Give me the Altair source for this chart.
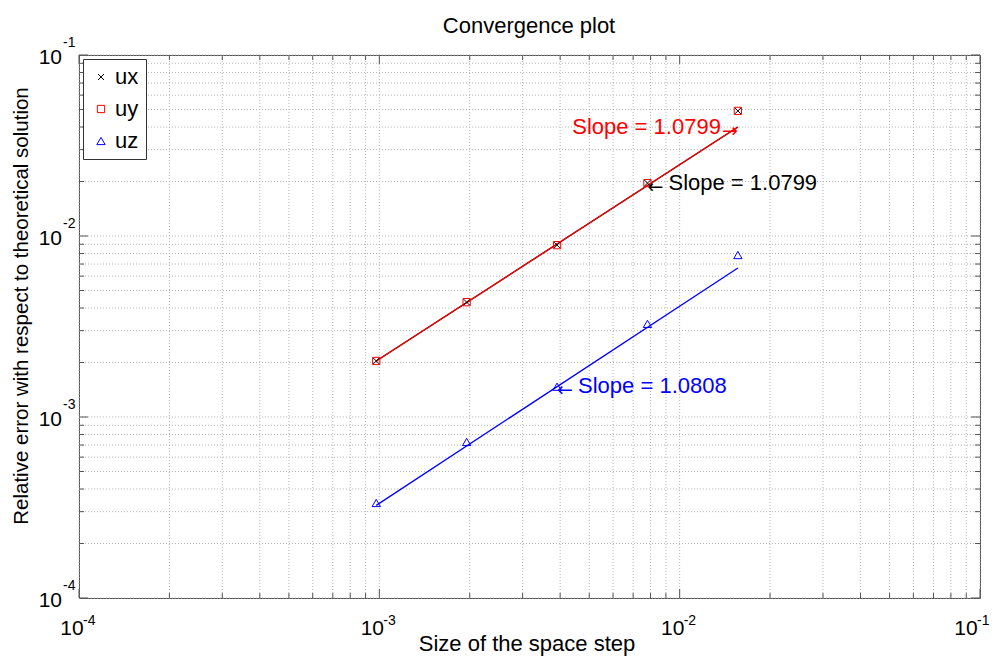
import altair as alt
import pandas as pd

# ---------------- data ----------------
steps = [0.0009766, 0.001953, 0.003906, 0.007813, 0.015625]
err_ux = [2.04e-3, 4.31e-3, 8.9e-3, 1.96e-2, 4.91e-2]
err_uy = [2.04e-3, 4.31e-3, 8.9e-3, 1.96e-2, 4.91e-2]
err_uz = [3.35e-4, 7.28e-4, 1.47e-3, 3.27e-3, 7.85e-3]

fit_x = [0.0009766, 0.015625]
fit_ux = [2.04e-3, 4.0e-2]
fit_uy = [2.04e-3, 4.0e-2]
fit_uz = [3.25e-4, 6.65e-3]

series = ["ux", "uy", "uz"]
colors = ["#000000", "#ff0000", "#0000ff"]
shapes = ["M-1,-1L1,1M-1,1L1,-1", "square", "triangle-up"]
sizes = [36, 70, 90]

ann_text = ["Slope = 1.0799", "Slope = 1.0799", "Slope = 1.0808"]
ann_arrow = ["\u2190", "\u2192", "\u2190"]
ann_x = [0.007813, 0.015625, 0.003906]
ann_y = [1.96e-2, 4.0e-2, 1.48e-3]
ann_align = ["left", "right", "left"]

decades = [1e-4, 1e-3, 1e-2, 1e-1]
decade_exp = ["-4", "-3", "-2", "-1"]
mantissas = [2, 3, 4, 5, 6, 7, 8, 9]

title_text = "Convergence plot"
x_title = "Size of the space step"
y_title = "Relative error with respect to theoretical solution"

# ---------------- layout ----------------
W, H = 901, 543
FONT = "Liberation Sans"
FRAME = "#555555"
GRID = "#b5b5b5"

minor_vals = [m * d for d in decades[:-1] for m in mantissas]
major_vals = decades

xs = alt.Scale(type="log", domain=[1e-4, 1e-1], nice=False)
ys = alt.Scale(type="log", domain=[1e-4, 1e-1], nice=False)

grid_df = pd.DataFrame({"v": minor_vals + major_vals})
minor_df = pd.DataFrame({"v": minor_vals})
major_df = pd.DataFrame({"v": major_vals})
lab_df = pd.DataFrame({"v": decades, "base": ["10"] * 4, "exp": decade_exp})

layers = []

# grid
layers.append(alt.Chart(grid_df).mark_rule(color=GRID, strokeDash=[1, 2], strokeWidth=1).encode(
    x=alt.X("v:Q", scale=xs, axis=None)))
layers.append(alt.Chart(grid_df).mark_rule(color=GRID, strokeDash=[1, 2], strokeWidth=1).encode(
    y=alt.Y("v:Q", scale=ys, axis=None)))

# fit lines
for vals, col in [(fit_ux, colors[0]), (fit_uz, colors[2]), (fit_uy, colors[1])]:
    df = pd.DataFrame({"step": fit_x, "err": vals})
    layers.append(alt.Chart(df).mark_line(color=col, strokeWidth=1.3).encode(
        x=alt.X("step:Q", scale=xs, axis=None),
        y=alt.Y("err:Q", scale=ys, axis=None)))

# points
pts = pd.DataFrame({
    "step": steps * 3,
    "err": err_uz + err_uy + err_ux,
    "series": ["uz"] * 5 + ["uy"] * 5 + ["ux"] * 5,
})
layers.append(alt.Chart(pts).mark_point(filled=False, strokeWidth=1, opacity=1).encode(
    x=alt.X("step:Q", scale=xs, axis=None),
    y=alt.Y("err:Q", scale=ys, axis=None),
    color=alt.Color("series:N", scale=alt.Scale(domain=series, range=colors), legend=alt.Legend(title=None)),
    shape=alt.Shape("series:N", scale=alt.Scale(domain=series, range=shapes), legend=alt.Legend(title=None)),
    size=alt.Size("series:N", scale=alt.Scale(domain=series, range=sizes), legend=alt.Legend(title=None)),
))

# annotations: arrow glyph + text
for t, arr, ax, ay, al, col in zip(ann_text, ann_arrow, ann_x, ann_y, ann_align, colors):
    df = pd.DataFrame({"step": [ax], "err": [ay], "t": [t], "a": [arr]})
    text_dx = 21 if al == "left" else -17
    layers.append(alt.Chart(df).mark_text(align=al, baseline="middle", font="DejaVu Sans", fontSize=19,
                                          color=col, dy=4).encode(
        x=alt.X("step:Q", scale=xs, axis=None),
        y=alt.Y("err:Q", scale=ys, axis=None),
        text="a:N"))
    layers.append(alt.Chart(df).mark_text(align=al, baseline="middle", font=FONT, fontSize=22, color=col,
                                          dx=text_dx).encode(
        x=alt.X("step:Q", scale=xs, axis=None),
        y=alt.Y("err:Q", scale=ys, axis=None),
        text="t:N"))

# inward ticks on all four sides
for df, ln in [(minor_df, 5), (major_df, 9)]:
    layers.append(alt.Chart(df).mark_rule(color=FRAME).encode(
        x=alt.X("v:Q", scale=xs, axis=None), y=alt.value(H), y2=alt.value(H - ln)))
    layers.append(alt.Chart(df).mark_rule(color=FRAME).encode(
        x=alt.X("v:Q", scale=xs, axis=None), y=alt.value(0), y2=alt.value(ln)))
    layers.append(alt.Chart(df).mark_rule(color=FRAME).encode(
        y=alt.Y("v:Q", scale=ys, axis=None), x=alt.value(0), x2=alt.value(ln)))
    layers.append(alt.Chart(df).mark_rule(color=FRAME).encode(
        y=alt.Y("v:Q", scale=ys, axis=None), x=alt.value(W), x2=alt.value(W - ln)))

# x tick labels 10^k (the last one nudged left so it stays inside the page)
inner = "datum.v < 0.05"
outer = "datum.v > 0.05"
for flt, shift in [(inner, 0), (outer, -7)]:
    layers.append(alt.Chart(lab_df).transform_filter(flt).mark_text(
        align="center", baseline="alphabetic", font=FONT, fontSize=21, dx=-7 + shift).encode(
        x=alt.X("v:Q", scale=xs, axis=None), y=alt.value(H + 37), text="base:N"))
    layers.append(alt.Chart(lab_df).transform_filter(flt).mark_text(
        align="left", baseline="alphabetic", font=FONT, fontSize=14, dx=4 + shift).encode(
        x=alt.X("v:Q", scale=xs, axis=None), y=alt.value(H + 27), text="exp:N"))
# y tick labels
layers.append(alt.Chart(lab_df).mark_text(align="right", baseline="alphabetic", font=FONT, fontSize=21, dy=9).encode(
    y=alt.Y("v:Q", scale=ys, axis=None), x=alt.value(-17), text="base:N"))
layers.append(alt.Chart(lab_df).mark_text(align="left", baseline="alphabetic", font=FONT, fontSize=14, dy=-8).encode(
    y=alt.Y("v:Q", scale=ys, axis=None), x=alt.value(-16), text="exp:N"))

# titles
tdf = pd.DataFrame({"t": [title_text]})
layers.append(alt.Chart(tdf).mark_text(align="center", baseline="alphabetic", font=FONT, fontSize=22).encode(
    x=alt.value(450), y=alt.value(-22), text="t:N"))
xdf = pd.DataFrame({"t": [x_title]})
layers.append(alt.Chart(xdf).mark_text(align="center", baseline="alphabetic", font=FONT, fontSize=22).encode(
    x=alt.value(448), y=alt.value(H + 53), text="t:N"))
ydf = pd.DataFrame({"t": [y_title]})
layers.append(alt.Chart(ydf).mark_text(align="center", baseline="middle", font=FONT, fontSize=20.5, angle=270).encode(
    x=alt.value(-57), y=alt.value(251), text="t:N"))

chart = alt.layer(*layers).properties(
    width=W, height=H,
    autosize=alt.AutoSizeParams(type="none"),
    padding={"left": 71, "top": 47, "right": 11, "bottom": 58},
).configure_view(
    stroke=FRAME, strokeWidth=1
).configure_legend(
    orient="top-left", offset=4, fillColor="white", strokeColor="#333333", padding=7,
    labelFontSize=22, labelFont=FONT, rowPadding=10, symbolStrokeWidth=1, labelOffset=3,
)

chart.save("out.html", embed_options={"renderer": "svg", "actions": False})
